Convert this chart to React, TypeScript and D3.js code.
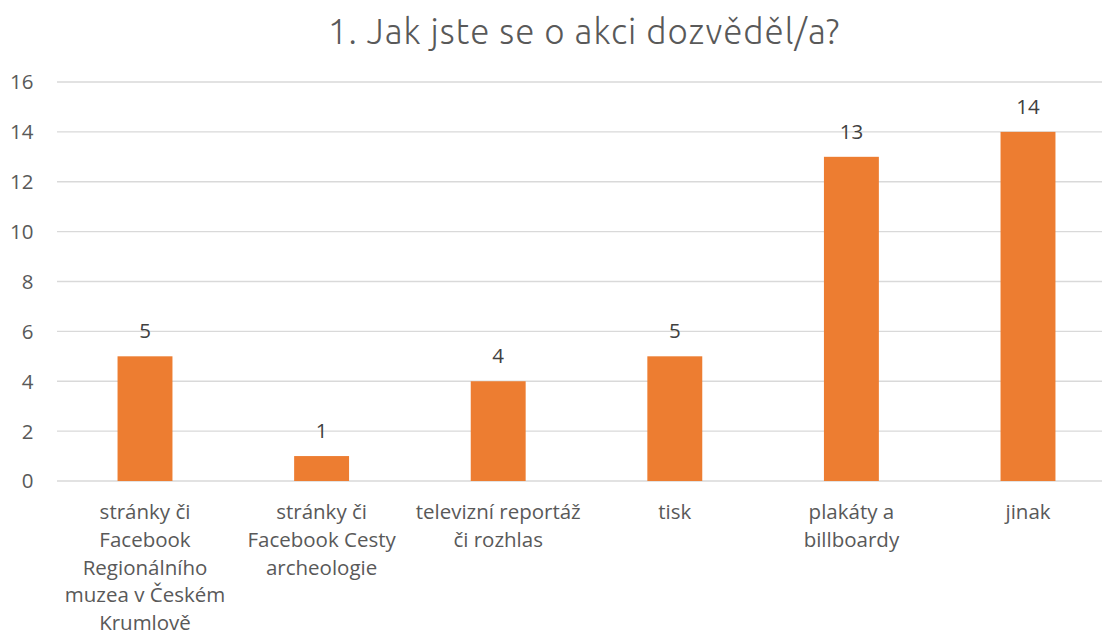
import React from "react";
import * as d3 from "d3";

const title = "1. Jak jste se o akci dozvěděl/a?";
const categories: string[][] = [
  ["stránky či", "Facebook", "Regionálního", "muzea v Českém", "Krumlově"],
  ["stránky či", "Facebook Cesty", "archeologie"],
  ["televizní reportáž", "či rozhlas"],
  ["tisk"],
  ["plakáty a", "billboardy"],
  ["jinak"],
];
const values = [5, 1, 4, 5, 13, 14];
const yTicks = [0, 2, 4, 6, 8, 10, 12, 14, 16];

export default function App() {
  const W = 1102, H = 635;
  const x = d3
    .scaleBand<number>()
    .domain(values.map((_, i) => i))
    .range([56.7, 1116.3])
    .paddingInner(0.689)
    .paddingOuter(0.3445);
  const y = d3.scaleLinear().domain([0, 16]).range([481, 82]);
  const font = "'Segoe UI', 'Open Sans', 'Noto Sans', sans-serif";
  return (
    <svg
      width={W}
      height={H}
      style={{ position: "absolute", left: 0, top: 0, background: "#fff" }}
      fontFamily={font}
    >
      <text x={584} y={44} textAnchor="middle" fontSize={35} fontWeight={300} letterSpacing={1} fill="#595959" fontFamily="'Ubuntu', 'Open Sans', sans-serif">
        {title}
      </text>
      {yTicks.map((t) => (
        <g key={t}>
          <line x1={57} x2={W} y1={y(t)} y2={y(t)} stroke="#d9d9d9" strokeWidth={1.3} />
          <text x={33.5} y={y(t)} dy="0.36em" textAnchor="end" fontSize={20.5} fill="#595959">
            {t}
          </text>
        </g>
      ))}
      {values.map((v, i) => (
        <g key={i}>
          <rect x={x(i)} y={y(v)} width={x.bandwidth()} height={y(0) - y(v)} fill="#ED7D31" />
          <text x={x(i)! + x.bandwidth() / 2} y={y(v) - 18} textAnchor="middle" fontSize={20.5} fill="#404040">
            {v}
          </text>
          {categories[i].map((line, j) => (
            <text key={j} x={x(i)! + x.bandwidth() / 2} y={519 + j * 27.8} textAnchor="middle" fontSize={20.5} fill="#595959">
              {line}
            </text>
          ))}
        </g>
      ))}
    </svg>
  );
}
